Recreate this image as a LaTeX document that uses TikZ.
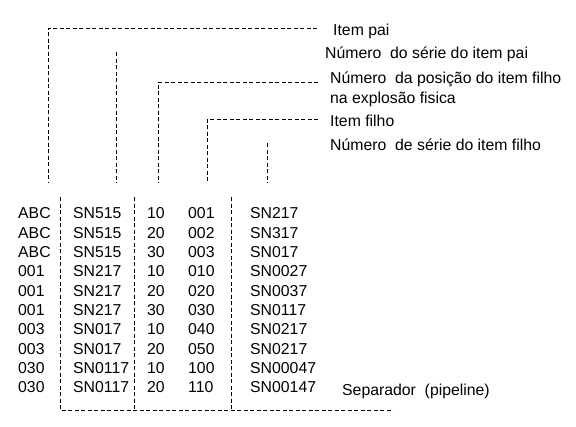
\documentclass[tikz,border=0pt]{standalone}
\usepackage{fontspec}
\setmainfont{Liberation Sans}
\begin{document}
\begin{tikzpicture}[x=1pt, y=-1pt, font=\fontsize{15.8}{19}\selectfont,
  guia/.style={dash pattern=on 4pt off 2.5pt, line width=0.7pt},
  rotulo/.style={anchor=base west, inner sep=0pt},
  celula/.style={anchor=base west, inner sep=0pt}]

  % --- 1. Quadro ---
  \useasboundingbox (0,0) rectangle (576,426);

  % --- 2. Rótulos dos campos ---
  \node[rotulo] (pai) at (333,35.7) {Item pai};
  \node[rotulo] (seriepai) at (325,58.8) {Número\ \ do série do item pai};
  \node[rotulo] (posicao) at (330,83.8) {Número\ \ da posição do item filho};
  \node[rotulo] (posicaob) at (330,103.8) {na explosão fisica};
  \node[rotulo] (filho) at (330,126.3) {Item filho};
  \node[rotulo] (seriefilho) at (330,150.3) {Número\ \ de série do item filho};
  \node[rotulo] (separador) at (342,395.8) {Separador\ \ (pipeline)};

  % --- 3. Linhas guia (rótulo -> coluna) ---
  \coordinate (paiE) at (317,28);   \coordinate (paiB) at (48,183);
  \coordinate (spaiT) at (116,52);  \coordinate (spaiB) at (116,183);
  \coordinate (posE) at (318,82);   \coordinate (posB) at (158,183);
  \coordinate (filE) at (318,119);  \coordinate (filB) at (207,183);
  \coordinate (sfilT) at (267,143); \coordinate (sfilB) at (267,183);

  \draw[guia] (paiE) -| (paiB);
  \draw[guia] (spaiT) -- (spaiB);
  \draw[guia] (posE) -| (posB);
  \draw[guia] (filE) -| (filB);
  \draw[guia] (sfilT) -- (sfilB);

  % --- 4. Separadores da tabela ---
  \coordinate (s1T) at (60,197);  \coordinate (s1B) at (60,410);
  \coordinate (s2T) at (134,197); \coordinate (s2B) at (134,410);
  \coordinate (s3T) at (231,197); \coordinate (s3B) at (231,410);
  \coordinate (fimB) at (393,410);

  \draw[guia] (s1T) -- (s1B) -- (fimB);
  \draw[guia] (s2T) -- (s2B);
  \draw[guia] (s3T) -- (s3B);

  % --- 5. Linhas da tabela ---
  \foreach \a/\b/\c/\d/\e [count=\i from 0] in {
      ABC/SN515/10/001/SN217, ABC/SN515/20/002/SN317,
      ABC/SN515/30/003/SN017, 001/SN217/10/010/SN0027,
      001/SN217/20/020/SN0037, 001/SN217/30/030/SN0117,
      003/SN017/10/040/SN0217, 003/SN017/20/050/SN0217,
      030/SN0117/10/100/SN00047, 030/SN0117/20/110/SN00147} {
    \node[celula] (a\i) at (18,{218.7+19.35*\i}) {\a};
    \node[celula] (b\i) at (73,{218.7+19.35*\i}) {\b};
    \node[celula] (c\i) at (147,{218.7+19.35*\i}) {\c};
    \node[celula] (d\i) at (188,{218.7+19.35*\i}) {\d};
    \node[celula] (e\i) at (250,{218.7+19.35*\i}) {\e};
  }

\end{tikzpicture}
\end{document}
